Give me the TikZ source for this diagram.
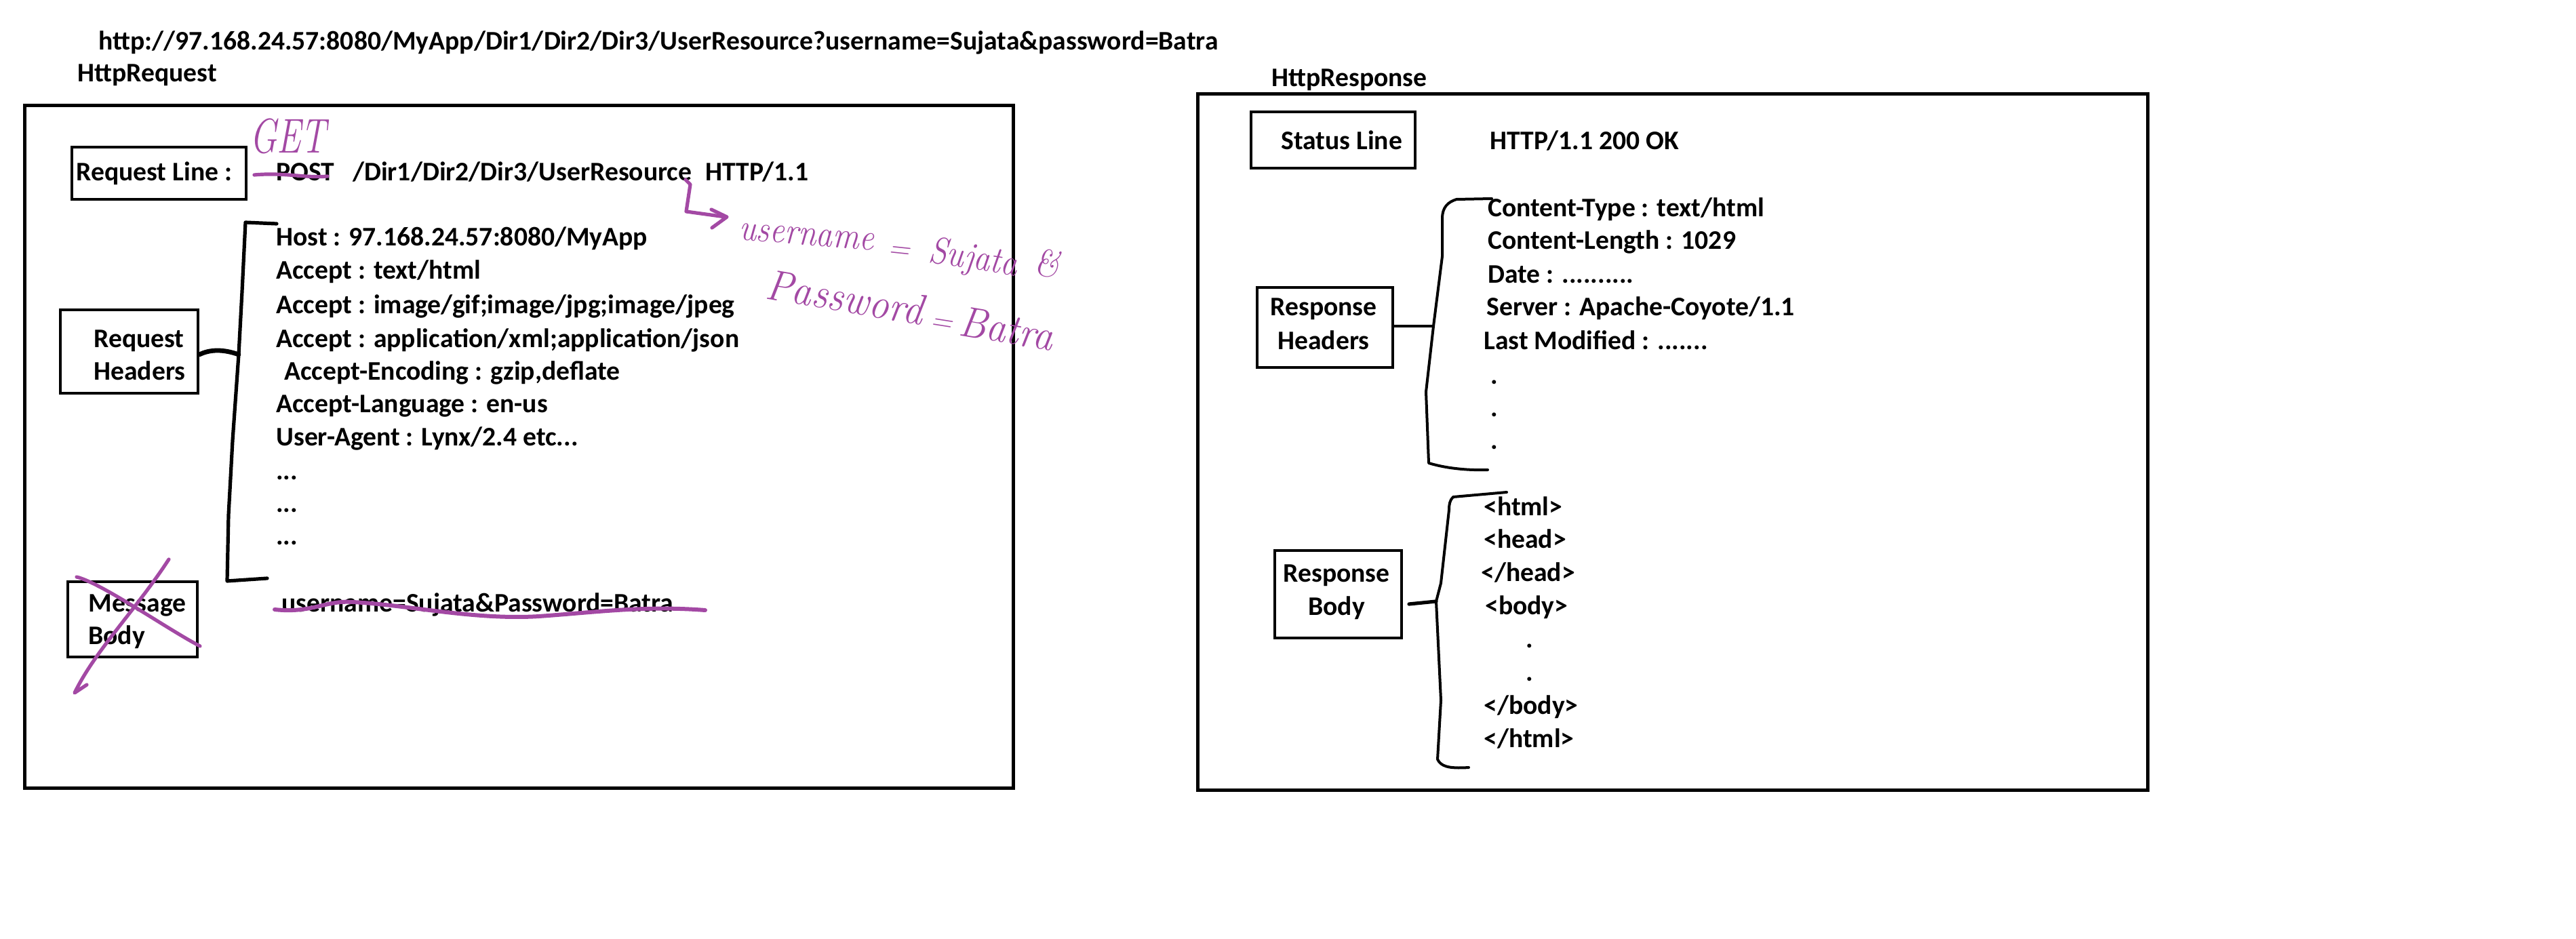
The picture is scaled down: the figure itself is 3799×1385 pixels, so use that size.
\documentclass[tikz,border=0pt]{standalone}
\usepackage{fontspec}
\newfontfamily\calib{Carlito}[BoldFont={Carlito Bold}]
\definecolor{pen}{HTML}{A349A4}
\begin{document}
\begin{tikzpicture}[x=0.5pt,y=-0.5pt,
  txt/.style={font=\calib\bfseries\fontsize{19.8}{24.5}\selectfont, inner sep=0pt, anchor=base west},
  ctxt/.style={txt, anchor=base},
  lbl/.style={draw, line width=2pt, inner sep=0pt, anchor=north west},
  frame/.style={draw, line width=2.4pt, inner sep=0pt, anchor=north west},
  brace/.style={draw, line width=2.6pt, line cap=round, line join=round},
  thinbrace/.style={draw, line width=2pt, line cap=round, line join=round},
  ink/.style={draw=pen, line width=2.6pt, line cap=round, line join=round},
  hand/.style={text=pen, inner sep=0pt, anchor=base west, transform shape},
  handA/.style={hand, font=\itshape\fontsize{28}{30}\selectfont, xscale=0.87},
  handB/.style={hand, font=\itshape\fontsize{32}{34}\selectfont, xscale=0.92},
  handEq/.style={hand, font=\itshape\fontsize{22}{24}\selectfont}]
\useasboundingbox (0,0) rectangle (3799,1385);
\fill[white] (0,0) rectangle (3799,1385);

% ---------- titles ----------
\node[txt] (url) at (145,74) {http://97.168.24.57:8080/MyApp/Dir1/Dir2/Dir3/UserResource?username=Sujata\&password=Batra};
\node[txt] (reqtitle) at (114,121) {HttpRequest};
\node[txt] (resptitle) at (1875,128) {HttpResponse};

% ---------- frames ----------
\node[frame, minimum width=729pt, minimum height=503.5pt] (reqframe) at (34,153) {};
\node[frame, minimum width=700.5pt, minimum height=513.5pt] (respframe) at (1764,136) {};

% ---------- request side ----------
\node[lbl, minimum width=128.5pt, minimum height=38.5pt] (reqline) at (104,215) {};
\node[txt] (reqlinet) at (112,267) {Request Line :};
\node[txt] (post) at (407,267) {POST\hspace{13.5pt}/Dir1/Dir2/Dir3/UserResource\hspace{10pt}HTTP/1.1};

\node[lbl, minimum width=101.5pt, minimum height=61.5pt] (reqhdr) at (87,455) {};
\node[txt] (reqhdr1) at (138,512) {Request};
\node[txt] (reqhdr2) at (138,560) {Headers};

\node[txt] (h1) at (407,363) {Host : 97.168.24.57:8080/MyApp};
\node[txt] (h2) at (407,412) {Accept : text/html};
\node[txt] (h3) at (407,462) {Accept : image/gif;image/jpg;image/jpeg};
\node[txt] (h4) at (407,512) {Accept : application/xml;application/json};
\node[txt] (h5) at (419,560) {Accept-Encoding : gzip,deflate};
\node[txt] (h6) at (407,608) {Accept-Language : en-us};
\node[txt] (h7) at (407,657) {User-Agent : Lynx/2.4 etc...};
\node[txt] (h8) at (407,707) {...};
\node[txt] (h9) at (407,755) {...};
\node[txt] (h10) at (407,803) {...};

\coordinate (rhtip) at (352,523);
\draw[brace] (408,330) -- (362,328) -- (357,430) -- (rhtip) -- (343,650) -- (337,760) -- (335,857) -- (394,853);
\draw[brace, line width=3.4pt] (reqhdr.east |- rhtip) .. controls (310,515) and (330,515) .. (rhtip);

\node[lbl, minimum width=95.5pt, minimum height=55.5pt] (msgbody) at (98,856) {};
\node[txt] (msgbody1) at (130,902) {Message};
\node[txt] (msgbody2) at (130,950) {Body};
\node[txt] (params) at (415,902) {username=Sujata\&Password=Batra};

% ---------- purple annotations ----------
\draw[ink] (375,258) .. controls (420,254) and (450,263) .. (483,260);
\node[hand, font=\itshape\fontsize{36}{38}\selectfont, xscale=0.74] (get) at (368,226) {GET};
\draw[ink] (1011,265) -- (1018,272) -- (1012,312) -- (1070,320);
\draw[ink] (1049,309) -- (1072,320) -- (1050,336);
\node[handA, rotate=-4] (hwuser) at (1089,353) {username};
\node[handEq, rotate=-6] (hweq1) at (1308,378) {=};
\node[handA, rotate=-8] (hwsuj) at (1368,386) {Sujata};
\node[handA, rotate=-6] (hwamp) at (1524,405) {\&};
\node[handB, rotate=-9] (hwpass) at (1127,440) {Password};
\node[handEq, rotate=-9] (hweq2) at (1370,484) {=};
\node[handB, rotate=-9] (hwbatra) at (1412,494) {Batra};
\draw[ink, line width=3pt] (405,899) .. controls (460,905) and (480,885) .. (520,888) .. controls (600,892) and (700,915) .. (795,909) .. controls (880,903) and (950,893) .. (1040,900);
\draw[ink] (113,851) .. controls (150,860) and (250,930) .. (295,953);
\draw[ink] (249,825) .. controls (200,900) and (140,960) .. (110,1022) -- (128,1010);

% ---------- response side ----------
\node[lbl, minimum width=121pt, minimum height=41.5pt] (status) at (1843,163) {};
\node[txt] (statust) at (1889,221) {Status Line};
\node[txt] (statusv) at (2197,221) {HTTP/1.1 200 OK};

\node[lbl, minimum width=100pt, minimum height=59pt] (resphdr) at (1852,422) {};
\node[ctxt] (resphdr1) at (1952,466) {Response};
\node[ctxt] (resphdr2) at (1952,515) {Headers};

\node[txt] (r1) at (2194,320) {Content-Type : text/html};
\node[txt] (r2) at (2194,368) {Content-Length : 1029};
\node[txt] (r3) at (2194,417) {Date : ..........};
\node[txt] (r4) at (2192,466) {Server : Apache-Coyote/1.1};
\node[txt] (r5) at (2188,515) {Last Modified : .......};
\node[txt] (r6) at (2198,566) {.};
\node[txt] (r7) at (2198,614) {.};
\node[txt] (r8) at (2198,662) {.};

\coordinate (rtip) at (2114,481);
\draw[thinbrace] (2200,293) -- (2148,294) .. controls (2135,298) and (2127,306) .. (2127,322) -- (2127,378) -- (rtip) -- (2103,578) -- (2107,683) .. controls (2130,690) and (2160,694) .. (2194,693);
\draw[thinbrace] (resphdr.east |- rtip) -- (rtip);

\node[lbl, minimum width=93.5pt, minimum height=64.5pt] (respbody) at (1878,810) {};
\node[ctxt] (respbody1) at (1971,858) {Response};
\node[ctxt] (respbody2) at (1971,907) {Body};

\node[txt] (b1) at (2188,760) {<html>};
\node[txt] (b2) at (2188,808) {<head>};
\node[txt] (b3) at (2184,857) {</head>};
\node[txt] (b4) at (2190,906) {<body>};
\node[txt] (b5) at (2250,955) {.};
\node[txt] (b6) at (2250,1004) {.};
\node[txt] (b7) at (2188,1053) {</body>};
\node[txt] (b8) at (2188,1102) {</html>};

\coordinate (btip) at (2118,887);
\coordinate (bstub) at (2078,891);
\draw[thinbrace] (2222,726) -- (2143,733) .. controls (2138,738) and (2137,744) .. (2137,752) -- (2125,860) -- (btip) -- (2125,1033) -- (2120,1120) .. controls (2125,1130) and (2135,1134) .. (2166,1132);
\draw[brace] (bstub) -- (btip);
\end{tikzpicture}
\end{document}
